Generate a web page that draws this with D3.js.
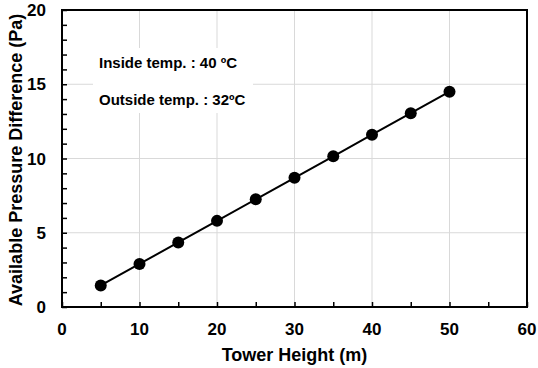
<!DOCTYPE html>
<html>
<head>
<meta charset="utf-8">
<script src="https://cdn.jsdelivr.net/npm/d3@7"></script>
<style>
body { margin: 0; background: #fff; }
svg { display: block; }
</style>
</head>
<body>
<svg id="chart" width="538" height="368"></svg>
<script>
var heights = [5, 10, 15, 20, 25, 30, 35, 40, 45, 50];
var pressure = [1.45, 2.9, 4.35, 5.8, 7.25, 8.7, 10.15, 11.6, 13.05, 14.5];
var xTicks = [0, 10, 20, 30, 40, 50, 60];
var yTicks = [0, 5, 10, 15, 20];
var notes = ["Inside temp. : 40 \u00baC", "Outside temp. : 32\u00baC"];

var svg = d3.select("#chart");
var font = "'Liberation Sans', Arial, sans-serif";

// plot box (note: "top" is reserved on window, so use a prefix)
var pLeft = 62, pRight = 527, pTop = 10, pBottom = 307;

var x = d3.scaleLinear().domain([0, 60]).range([pLeft, pRight]);
var y = d3.scaleLinear().domain([0, 20]).range([pBottom, pTop]);

// grid
svg.append("g").selectAll("line")
	.data(xTicks.slice(1, -1))
	.join("line")
	.attr("x1", d => x(d)).attr("x2", d => x(d))
	.attr("y1", pTop).attr("y2", pBottom)
	.attr("stroke", "#d9d9d9").attr("stroke-width", 1);

svg.append("g").selectAll("line")
	.data(yTicks.slice(1, -1))
	.join("line")
	.attr("x1", pLeft).attr("x2", pRight)
	.attr("y1", d => y(d)).attr("y2", d => y(d))
	.attr("stroke", "#d9d9d9").attr("stroke-width", 1);

// note box covers the grid behind the text
svg.append("rect")
	.attr("x", 93).attr("y", 48)
	.attr("width", 160).attr("height", 65)
	.attr("fill", "#fff");

svg.append("g").selectAll("text")
	.data(notes)
	.join("text")
	.attr("x", 99)
	.attr("y", (d, i) => 68 + i * 37)
	.attr("font-family", font)
	.attr("font-weight", "bold")
	.attr("font-size", 15)
	.attr("fill", "#000")
	.text(d => d);

// axes with inward ticks
var xAxis = d3.axisBottom(x).tickValues(d3.range(0, 61, 5)).tickSize(-5).tickFormat("");
svg.append("g")
	.attr("transform", "translate(0," + pBottom + ")")
	.call(xAxis)
	.call(g => g.select(".domain").remove())
	.call(g => g.selectAll("line").attr("stroke", "#000").attr("stroke-width", 1.5));

var yAxis = d3.axisLeft(y).tickValues(d3.range(0, 21, 1)).tickSize(-5).tickFormat("");
svg.append("g")
	.attr("transform", "translate(" + pLeft + ",0)")
	.call(yAxis)
	.call(g => g.select(".domain").remove())
	.call(g => g.selectAll("line").attr("stroke", "#000").attr("stroke-width", 1.5));

// tick labels
svg.append("g").selectAll("text")
	.data(xTicks)
	.join("text")
	.attr("x", d => x(d))
	.attr("y", 335)
	.attr("text-anchor", "middle")
	.attr("font-family", font)
	.attr("font-weight", "bold")
	.attr("font-size", 17)
	.text(d => d);

svg.append("g").selectAll("text")
	.data(yTicks)
	.join("text")
	.attr("x", 46)
	.attr("y", d => y(d) + 6)
	.attr("text-anchor", "end")
	.attr("font-family", font)
	.attr("font-weight", "bold")
	.attr("font-size", 17)
	.text(d => d);

// plot frame
svg.append("rect")
	.attr("x", pLeft).attr("y", pTop)
	.attr("width", pRight - pLeft).attr("height", pBottom - pTop)
	.attr("fill", "none")
	.attr("stroke", "#000").attr("stroke-width", 2);

// axis titles
svg.append("text")
	.attr("x", (pLeft + pRight) / 2)
	.attr("y", 361)
	.attr("text-anchor", "middle")
	.attr("font-family", font)
	.attr("font-weight", "bold")
	.attr("font-size", 18)
	.text("Tower Height (m)");

svg.append("text")
	.attr("transform", "translate(22,160) rotate(-90)")
	.attr("text-anchor", "middle")
	.attr("font-family", font)
	.attr("font-weight", "bold")
	.attr("font-size", 18)
	.text("Available Pressure Difference (Pa)");

// series
var line = d3.line().x((d, i) => x(heights[i])).y(d => y(d));
svg.append("path")
	.datum(pressure)
	.attr("d", line)
	.attr("fill", "none")
	.attr("stroke", "#000")
	.attr("stroke-width", 2);

svg.append("g").selectAll("circle")
	.data(pressure)
	.join("circle")
	.attr("cx", (d, i) => x(heights[i]))
	.attr("cy", d => y(d))
	.attr("r", 6)
	.attr("fill", "#000");
</script>
</body>
</html>
